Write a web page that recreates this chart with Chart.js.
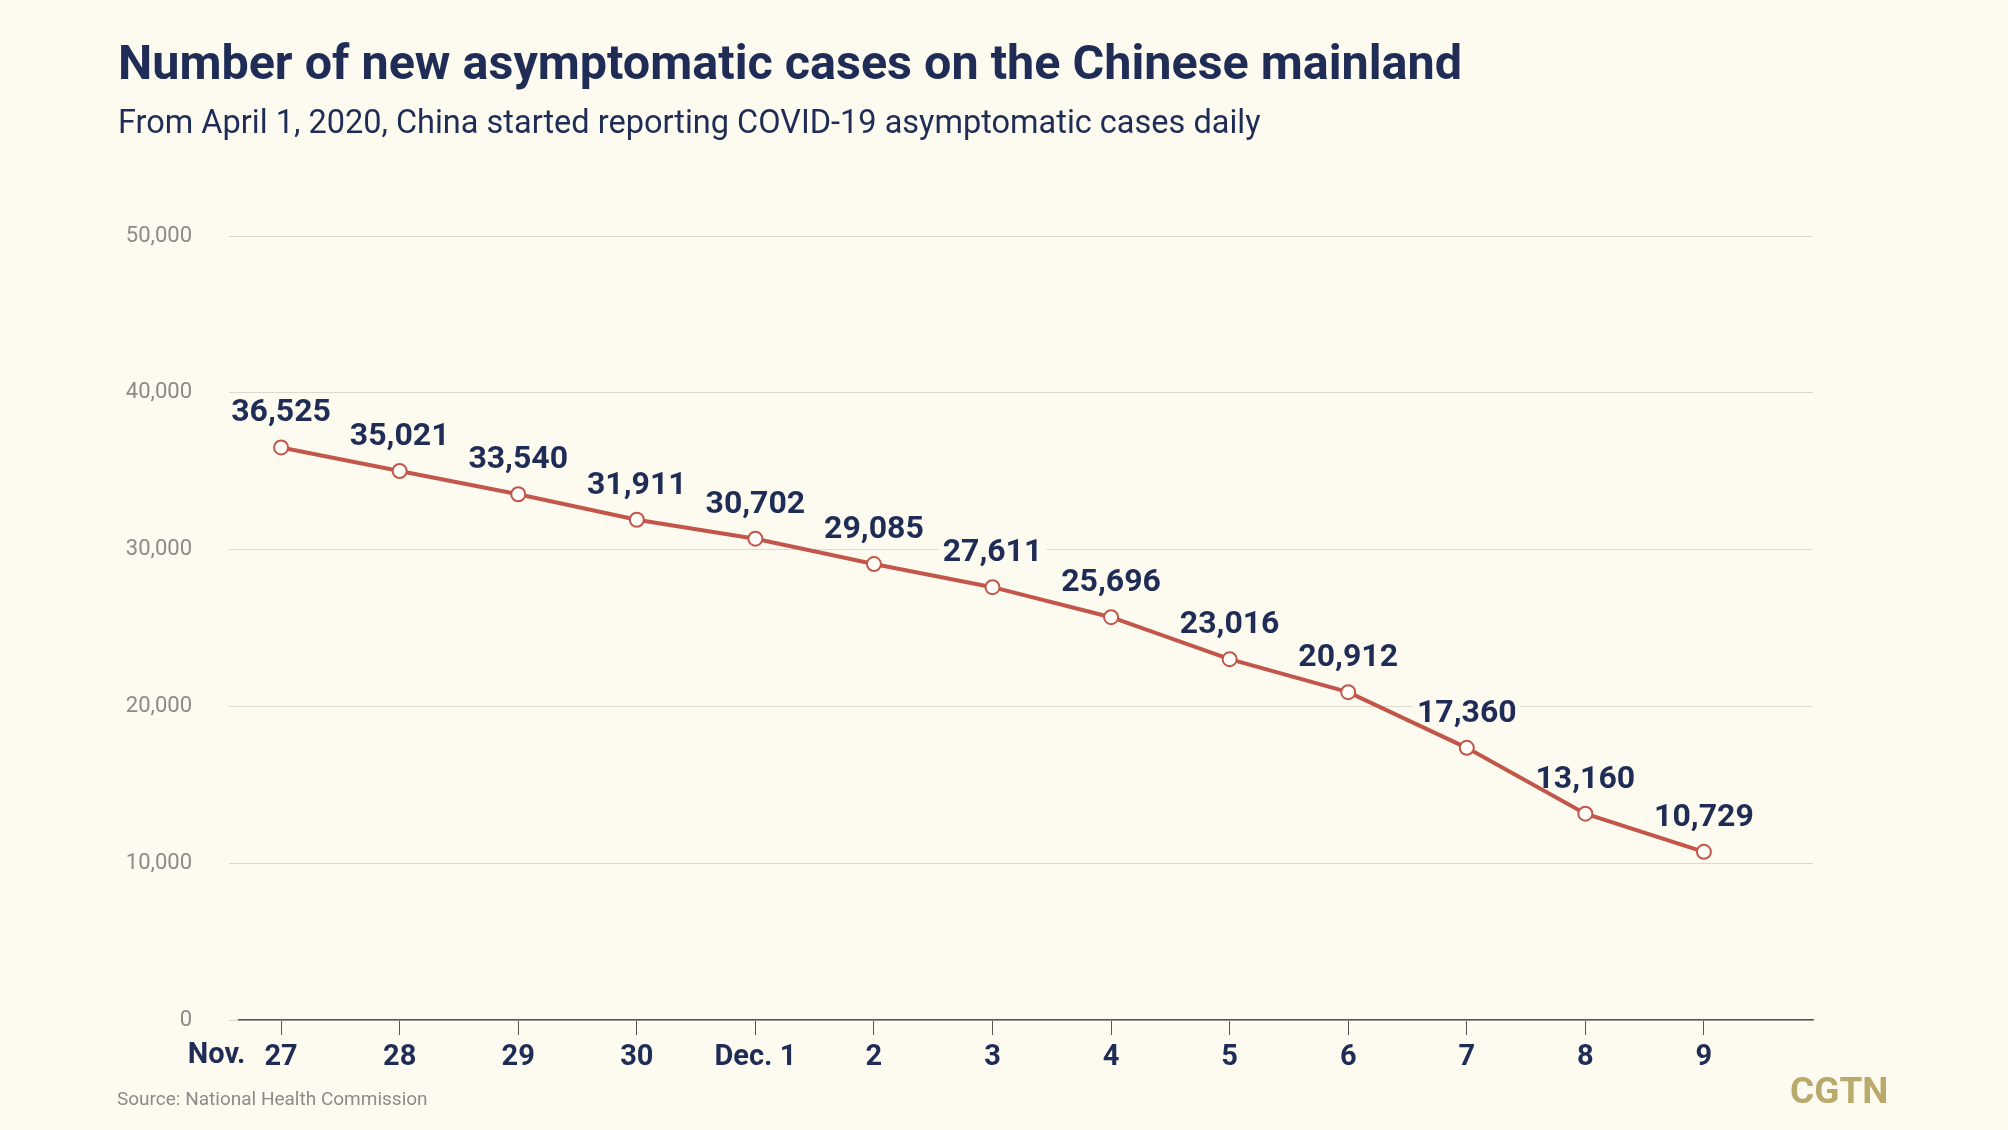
<!DOCTYPE html>
<html>
<head>
<meta charset="utf-8">
<script src="https://cdn.jsdelivr.net/npm/chart.js@4"></script>
<style>
  html, body { margin: 0; padding: 0; background: #fdfbf0; }
  #wrap { width: 2008px; height: 1130px; position: relative; }
</style>
</head>
<body>
<div id="wrap"><canvas id="c" width="2008" height="1130"></canvas></div>
<script>
// ---- data ----
const categories = ["27", "28", "29", "30", "Dec. 1", "2", "3", "4", "5", "6", "7", "8", "9"];
const firstMonthLabel = "Nov.";
const newAsymptomatic = [36525, 35021, 33540, 31911, 30702, 29085, 27611, 25696, 23016, 20912, 17360, 13160, 10729];
const yTickValues = [0, 10000, 20000, 30000, 40000, 50000];
const titleText = "Number of new asymptomatic cases on the Chinese mainland";
const subtitleText = "From April 1, 2020, China started reporting COVID-19 asymptomatic cases daily";
const sourceText = "Source: National Health Commission";
const logoText = "CGTN";

const NAVY = "#1f2d56";
const RED = "#c3564a";
const BG = "#fdfbf0";
const GREY = "#8b8b88";
const LABEL_FONT = "bold 32px Roboto";
const LABEL_OFFSET = 34;

const fmt = v => v.toLocaleString("en-US");

const bgPlugin = {
  id: "bg",
  beforeDraw(chart) {
    const ctx = chart.ctx;
    ctx.save();
    ctx.fillStyle = BG;
    ctx.fillRect(0, 0, chart.width, chart.height);
    ctx.restore();
  }
};

const labelPlugin = {
  id: "valueLabels",
  beforeDatasetsDraw(chart) {
    // background boxes hide gridlines behind the labels (line stays on top)
    const ctx = chart.ctx;
    const meta = chart.getDatasetMeta(0);
    ctx.save();
    ctx.font = LABEL_FONT;
    meta.data.forEach((pt, i) => {
      const w = ctx.measureText(fmt(newAsymptomatic[i])).width;
      const y = pt.y - LABEL_OFFSET;
      ctx.fillStyle = BG;
      ctx.fillRect(pt.x - w / 2 - 4, y - 16, w + 8, 30);
    });
    ctx.restore();
  },
  afterDatasetsDraw(chart) {
    const ctx = chart.ctx;
    const meta = chart.getDatasetMeta(0);
    ctx.save();
    ctx.font = LABEL_FONT;
    ctx.textAlign = "center";
    ctx.textBaseline = "middle";
    ctx.fillStyle = NAVY;
    meta.data.forEach((pt, i) => {
      ctx.fillText(fmt(newAsymptomatic[i]), pt.x, pt.y - LABEL_OFFSET);
    });
    ctx.restore();
  }
};

const extrasPlugin = {
  id: "extras",
  afterDraw(chart) {
    const ctx = chart.ctx;
    const xs = chart.scales.x;
    ctx.save();
    // month label to the left of the first tick label
    ctx.font = "bold 29px Roboto";
    ctx.fillStyle = NAVY;
    ctx.textBaseline = "middle";
    ctx.textAlign = "right";
    const x0 = xs.getPixelForValue(0);
    const w0 = ctx.measureText(categories[0]).width;
    ctx.fillText(firstMonthLabel, x0 - w0 / 2 - 19, 1056);
    // source
    ctx.textAlign = "left";
    ctx.font = "19px Roboto";
    ctx.fillStyle = GREY;
    ctx.fillText(sourceText, 117, 1100);
    // logo
    ctx.font = "bold 37px Roboto";
    ctx.fillStyle = "#b9a96b";
    ctx.fillText(logoText, 1790, 1094);
    ctx.restore();
  }
};

new Chart(document.getElementById("c"), {
  type: "line",
  data: {
    datasets: [{
      data: newAsymptomatic.map((v, i) => ({ x: i, y: v })),
      borderColor: RED,
      borderWidth: 4,
      pointRadius: 7,
      pointBorderWidth: 2,
      pointBackgroundColor: "#fffef8",
      pointBorderColor: RED,
      tension: 0
    }]
  },
  options: {
    responsive: false,
    animation: false,
    layout: { padding: { top: 0, left: 118, right: 195, bottom: 50 } },
    plugins: {
      legend: { display: false },
      tooltip: { enabled: false },
      title: {
        display: true,
        text: titleText,
        align: "start",
        color: NAVY,
        font: { family: "Roboto", weight: "bold", size: 48.5 },
        padding: { top: 38, bottom: 9 }
      },
      subtitle: {
        display: true,
        text: subtitleText,
        align: "start",
        color: NAVY,
        font: { family: "Roboto", size: 32.5 },
        padding: { top: 0, bottom: 92 }
      }
    },
    scales: {
      x: {
        type: "linear",
        min: -0.355,
        max: 12.92,
        afterFit(s) { s.height = 60; },
        afterBuildTicks(s) { s.ticks = categories.map((c, i) => ({ value: i })); },
        ticks: {
          includeBounds: false,
          autoSkip: false,
          maxRotation: 0,
          padding: 5,
          color: NAVY,
          font: { family: "Roboto", weight: "bold", size: 29 },
          callback: v => categories[v]
        },
        grid: { drawOnChartArea: false, drawTicks: true, tickLength: 15, color: "#555" },
        border: { display: true, color: "#555", width: 1.5 }
      },
      y: {
        min: 0,
        max: 50000,
        afterFit(s) { s.width = 121; },
        afterBuildTicks(s) { s.ticks = yTickValues.map(v => ({ value: v })); },
        ticks: {
          padding: 37,
          color: GREY,
          font: { family: "Roboto", size: 22 },
          callback: v => fmt(v)
        },
        grid: { color: "#dcd9cd", lineWidth: 1, drawTicks: true, tickLength: 10 },
        border: { display: false }
      }
    }
  },
  plugins: [bgPlugin, labelPlugin, extrasPlugin]
});
</script>
</body>
</html>
